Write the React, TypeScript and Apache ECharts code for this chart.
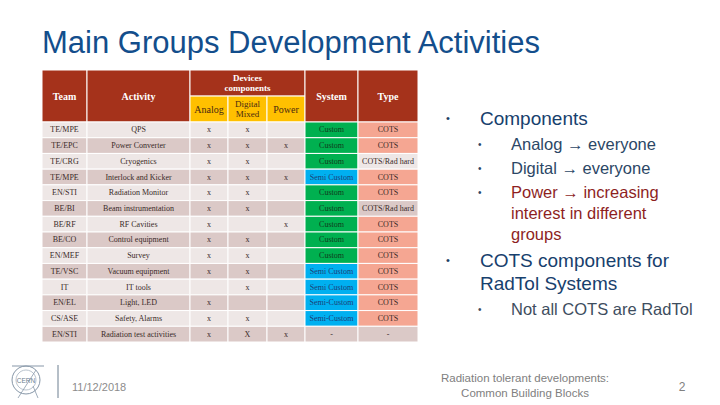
import React, { useEffect, useRef } from "react";
import * as echarts from "echarts";

// ---- data ----
const teams = ["TE/MPE", "TE/EPC", "TE/CRG", "TE/MPE", "EN/STI", "BE/BI", "BE/RF", "BE/CO", "EN/MEF", "TE/VSC", "IT", "EN/EL", "CS/ASE", "EN/STI"];
const activities = ["QPS", "Power Converter", "Cryogenics", "Interlock and Kicker", "Radiation Monitor", "Beam instrumentation", "RF Cavities", "Control equipment", "Survey", "Vacuum equipment", "IT tools", "Light, LED", "Safety, Alarms", "Radiation test activities"];
const analog = ["x", "x", "x", "x", "x", "x", "x", "x", "x", "x", "", "x", "x", "x"];
const digital = ["x", "x", "x", "x", "x", "x", "", "x", "x", "x", "x", "", "x", "X"];
const power = ["", "x", "", "x", "", "", "x", "", "", "", "", "", "", "x"];
const systems = ["Custom", "Custom", "Custom", "Semi Custom", "Custom", "Custom", "Custom", "Custom", "Custom", "Semi Custom", "Semi Custom", "Semi-Custom", "Semi-Custom", "-"];
const types = ["COTS", "COTS", "COTS/Rad hard", "COTS", "COTS", "COTS/Rad hard", "COTS", "COTS", "COTS", "COTS", "COTS", "COTS", "COTS", "-"];
const headers = ["Team", "Activity", "Analog", "Digital\nMixed", "Power", "System", "Type"];
const groupHeader = "Devices\ncomponents";

// ---- layout / style ----
const COL_EDGES = [0, 45, 148, 186, 225, 263, 316, 376];
const HEAD_TOP = -3.31;
const HEAD_MID = -1.65;
const RED = "#A5321B";
const YELLOW = "#FFC000";
const ROW_LIGHT = "#EEE7E6";
const ROW_DARK = "#DBC9C7";
const GREEN = "#00B050";
const BLUE = "#00B0F0";
const SALMON = "#F5A692";
const SERIF = "'Liberation Serif', 'DejaVu Serif', serif";
const SANS = "'Liberation Sans', Arial, sans-serif";

const columns = [teams, activities, analog, digital, power, systems, types];

export default function App() {
  const ref = useRef<HTMLDivElement>(null);
  useEffect(() => {
    document.body.style.margin = "0";
    document.body.style.background = "#fff";
    if (!ref.current) return;
    const chart = echarts.init(ref.current, undefined, { renderer: "svg" });

    const bodyData: number[][] = [];
    for (let r = 0; r < teams.length; r++) {
      for (let c = 0; c < columns.length; c++) bodyData.push([c, r]);
    }

    const headerCells = [
      { c0: 0, c1: 1, y0: HEAD_TOP, y1: 0, text: headers[0], kind: "red" },
      { c0: 1, c1: 2, y0: HEAD_TOP, y1: 0, text: headers[1], kind: "red" },
      { c0: 2, c1: 5, y0: HEAD_TOP, y1: HEAD_MID, text: groupHeader, kind: "red" },
      { c0: 2, c1: 3, y0: HEAD_MID, y1: 0, text: headers[2], kind: "yellow" },
      { c0: 3, c1: 4, y0: HEAD_MID, y1: 0, text: headers[3], kind: "yellow" },
      { c0: 4, c1: 5, y0: HEAD_MID, y1: 0, text: headers[4], kind: "yellow" },
      { c0: 5, c1: 6, y0: HEAD_TOP, y1: 0, text: headers[5], kind: "red" },
      { c0: 6, c1: 7, y0: HEAD_TOP, y1: 0, text: headers[6], kind: "red" },
    ];

    const cellFill = (c: number, r: number) => {
      const v = columns[c][r];
      const rowCol = r % 2 === 0 ? ROW_LIGHT : ROW_DARK;
      if (c === 5) {
        if (v === "Custom") return GREEN;
        if (v.startsWith("Semi")) return BLUE;
        return rowCol;
      }
      if (c === 6 && v === "COTS") return SALMON;
      return rowCol;
    };
    const cellText = (c: number, r: number) => {
      const v = columns[c][r];
      if (c === 5 && v === "Custom") return "#123a1c";
      if (c === 5 && v.startsWith("Semi")) return "#1d3f78";
      return "#3a2a28";
    };

    chart.setOption({
      animation: false,
      grid: { left: 42, top: 70, width: 376, height: 272 },
      xAxis: { type: "value", min: 0, max: 376, show: false },
      yAxis: { type: "value", inverse: true, min: HEAD_TOP, max: 14, show: false },
      series: [
        {
          type: "custom",
          clip: false,
          data: headerCells.map((h) => [h.c0, h.c1, h.y0, h.y1]),
          renderItem: (params: any, api: any) => {
            const h = headerCells[params.dataIndex];
            const p0 = api.coord([COL_EDGES[api.value(0)], api.value(2)]);
            const p1 = api.coord([COL_EDGES[api.value(1)], api.value(3)]);
            const isRed = h.kind === "red";
            return {
              type: "group",
              children: [
                {
                  type: "rect",
                  shape: { x: p0[0], y: p0[1], width: p1[0] - p0[0], height: p1[1] - p0[1] },
                  style: { fill: isRed ? RED : YELLOW, stroke: "#fff", lineWidth: 1 },
                },
                {
                  type: "text",
                  x: (p0[0] + p1[0]) / 2,
                  y: (p0[1] + p1[1]) / 2,
                  style: {
                    text: h.text,
                    fill: isRed ? "#fff" : "#4a2a10",
                    fontFamily: SERIF,
                    fontSize: h.text.includes("\n") ? 9 : 10,
                    fontWeight: isRed ? "bold" : "normal",
                    lineHeight: 10,
                    align: "center",
                    verticalAlign: "middle",
                  },
                },
              ],
            };
          },
        },
        {
          type: "custom",
          clip: false,
          data: bodyData,
          renderItem: (params: any, api: any) => {
            const c = api.value(0);
            const r = api.value(1);
            const p0 = api.coord([COL_EDGES[c], r]);
            const p1 = api.coord([COL_EDGES[c + 1], r + 1]);
            return {
              type: "group",
              children: [
                {
                  type: "rect",
                  shape: { x: p0[0], y: p0[1], width: p1[0] - p0[0], height: p1[1] - p0[1] },
                  style: { fill: cellFill(c, r), stroke: "#fff", lineWidth: 1 },
                },
                {
                  type: "text",
                  x: (p0[0] + p1[0]) / 2,
                  y: (p0[1] + p1[1]) / 2,
                  style: {
                    text: columns[c][r],
                    fill: cellText(c, r),
                    fontFamily: SERIF,
                    fontSize: 8,
                    align: "center",
                    verticalAlign: "middle",
                  },
                },
              ],
            };
          },
        },
      ],
      graphic: [
        {
          type: "text",
          x: 42,
          y: 42,
          style: { text: "Main Groups Development Activities", fill: "#134E8C", fontFamily: SANS, fontSize: 31, verticalAlign: "middle" },
        },
        // bullets
        { type: "text", x: 446, y: 118, style: { text: "•", fill: "#1F3F66", fontFamily: SANS, fontSize: 11, verticalAlign: "middle" } },
        { type: "text", x: 480, y: 118, style: { text: "Components", fill: "#17406D", fontFamily: SANS, fontSize: 19, verticalAlign: "middle" } },
        { type: "text", x: 478, y: 144, style: { text: "•", fill: "#2C4766", fontFamily: SANS, fontSize: 10, verticalAlign: "middle" } },
        { type: "text", x: 511, y: 144, style: { text: "Analog → everyone", fill: "#2C4766", fontFamily: SANS, fontSize: 16.5, verticalAlign: "middle" } },
        { type: "text", x: 478, y: 168, style: { text: "•", fill: "#2C4766", fontFamily: SANS, fontSize: 10, verticalAlign: "middle" } },
        { type: "text", x: 511, y: 168, style: { text: "Digital → everyone", fill: "#2C4766", fontFamily: SANS, fontSize: 16.5, verticalAlign: "middle" } },
        { type: "text", x: 478, y: 192, style: { text: "•", fill: "#2C4766", fontFamily: SANS, fontSize: 10, verticalAlign: "middle" } },
        {
          type: "text",
          x: 511,
          y: 182,
          style: { text: "Power → increasing\ninterest in different\ngroups", fill: "#8E1F1F", fontFamily: SANS, fontSize: 16.5, lineHeight: 20.7, verticalAlign: "top" },
        },
        { type: "text", x: 446, y: 260, style: { text: "•", fill: "#1F3F66", fontFamily: SANS, fontSize: 11, verticalAlign: "middle" } },
        {
          type: "text",
          x: 480,
          y: 249,
          style: { text: "COTS components for\nRadTol Systems", fill: "#17406D", fontFamily: SANS, fontSize: 19, lineHeight: 23, verticalAlign: "top" },
        },
        { type: "text", x: 478, y: 309, style: { text: "•", fill: "#3E4D5E", fontFamily: SANS, fontSize: 10, verticalAlign: "middle" } },
        { type: "text", x: 511, y: 309, style: { text: "Not all COTS are RadTol", fill: "#3E4D5E", fontFamily: SANS, fontSize: 16.5, verticalAlign: "middle" } },
        // footer
        { type: "line", shape: { x1: 58, y1: 365, x2: 58, y2: 398 }, style: { stroke: "#6d7f90", lineWidth: 1 } },
        { type: "text", x: 72, y: 387, style: { text: "11/12/2018", fill: "#8C8C8C", fontFamily: SANS, fontSize: 11, verticalAlign: "middle" } },
        {
          type: "text",
          x: 525,
          y: 385,
          style: { text: "Radiation tolerant developments:\nCommon Building Blocks", fill: "#808080", fontFamily: SANS, fontSize: 11.5, lineHeight: 15, align: "center", verticalAlign: "middle" },
        },
        { type: "text", x: 682, y: 387, style: { text: "2", fill: "#808080", fontFamily: SANS, fontSize: 12, align: "center", verticalAlign: "middle" } },
        // CERN logo
        { type: "circle", shape: { cx: 26, cy: 380, r: 14 }, style: { fill: "none", stroke: "#8797a8", lineWidth: 1 } },
        { type: "circle", shape: { cx: 26, cy: 380, r: 10 }, style: { fill: "none", stroke: "#a7b4c0", lineWidth: 0.8 } },
        { type: "line", shape: { x1: 12, y1: 366, x2: 44, y2: 366 }, style: { stroke: "#8797a8", lineWidth: 1 } },
        { type: "line", shape: { x1: 18, y1: 398, x2: 36, y2: 370 }, style: { stroke: "#8797a8", lineWidth: 0.8 } },
        { type: "line", shape: { x1: 38, y1: 398, x2: 33, y2: 386 }, style: { stroke: "#8797a8", lineWidth: 0.8 } },
        { type: "text", x: 26, y: 380, style: { text: "CERN", fill: "#6d7f90", fontFamily: SANS, fontSize: 6.5, align: "center", verticalAlign: "middle" } },
      ],
    });
    return () => chart.dispose();
  }, []);
  return <div ref={ref} style={{ width: 720, height: 405, background: "#fff" }} />;
}
